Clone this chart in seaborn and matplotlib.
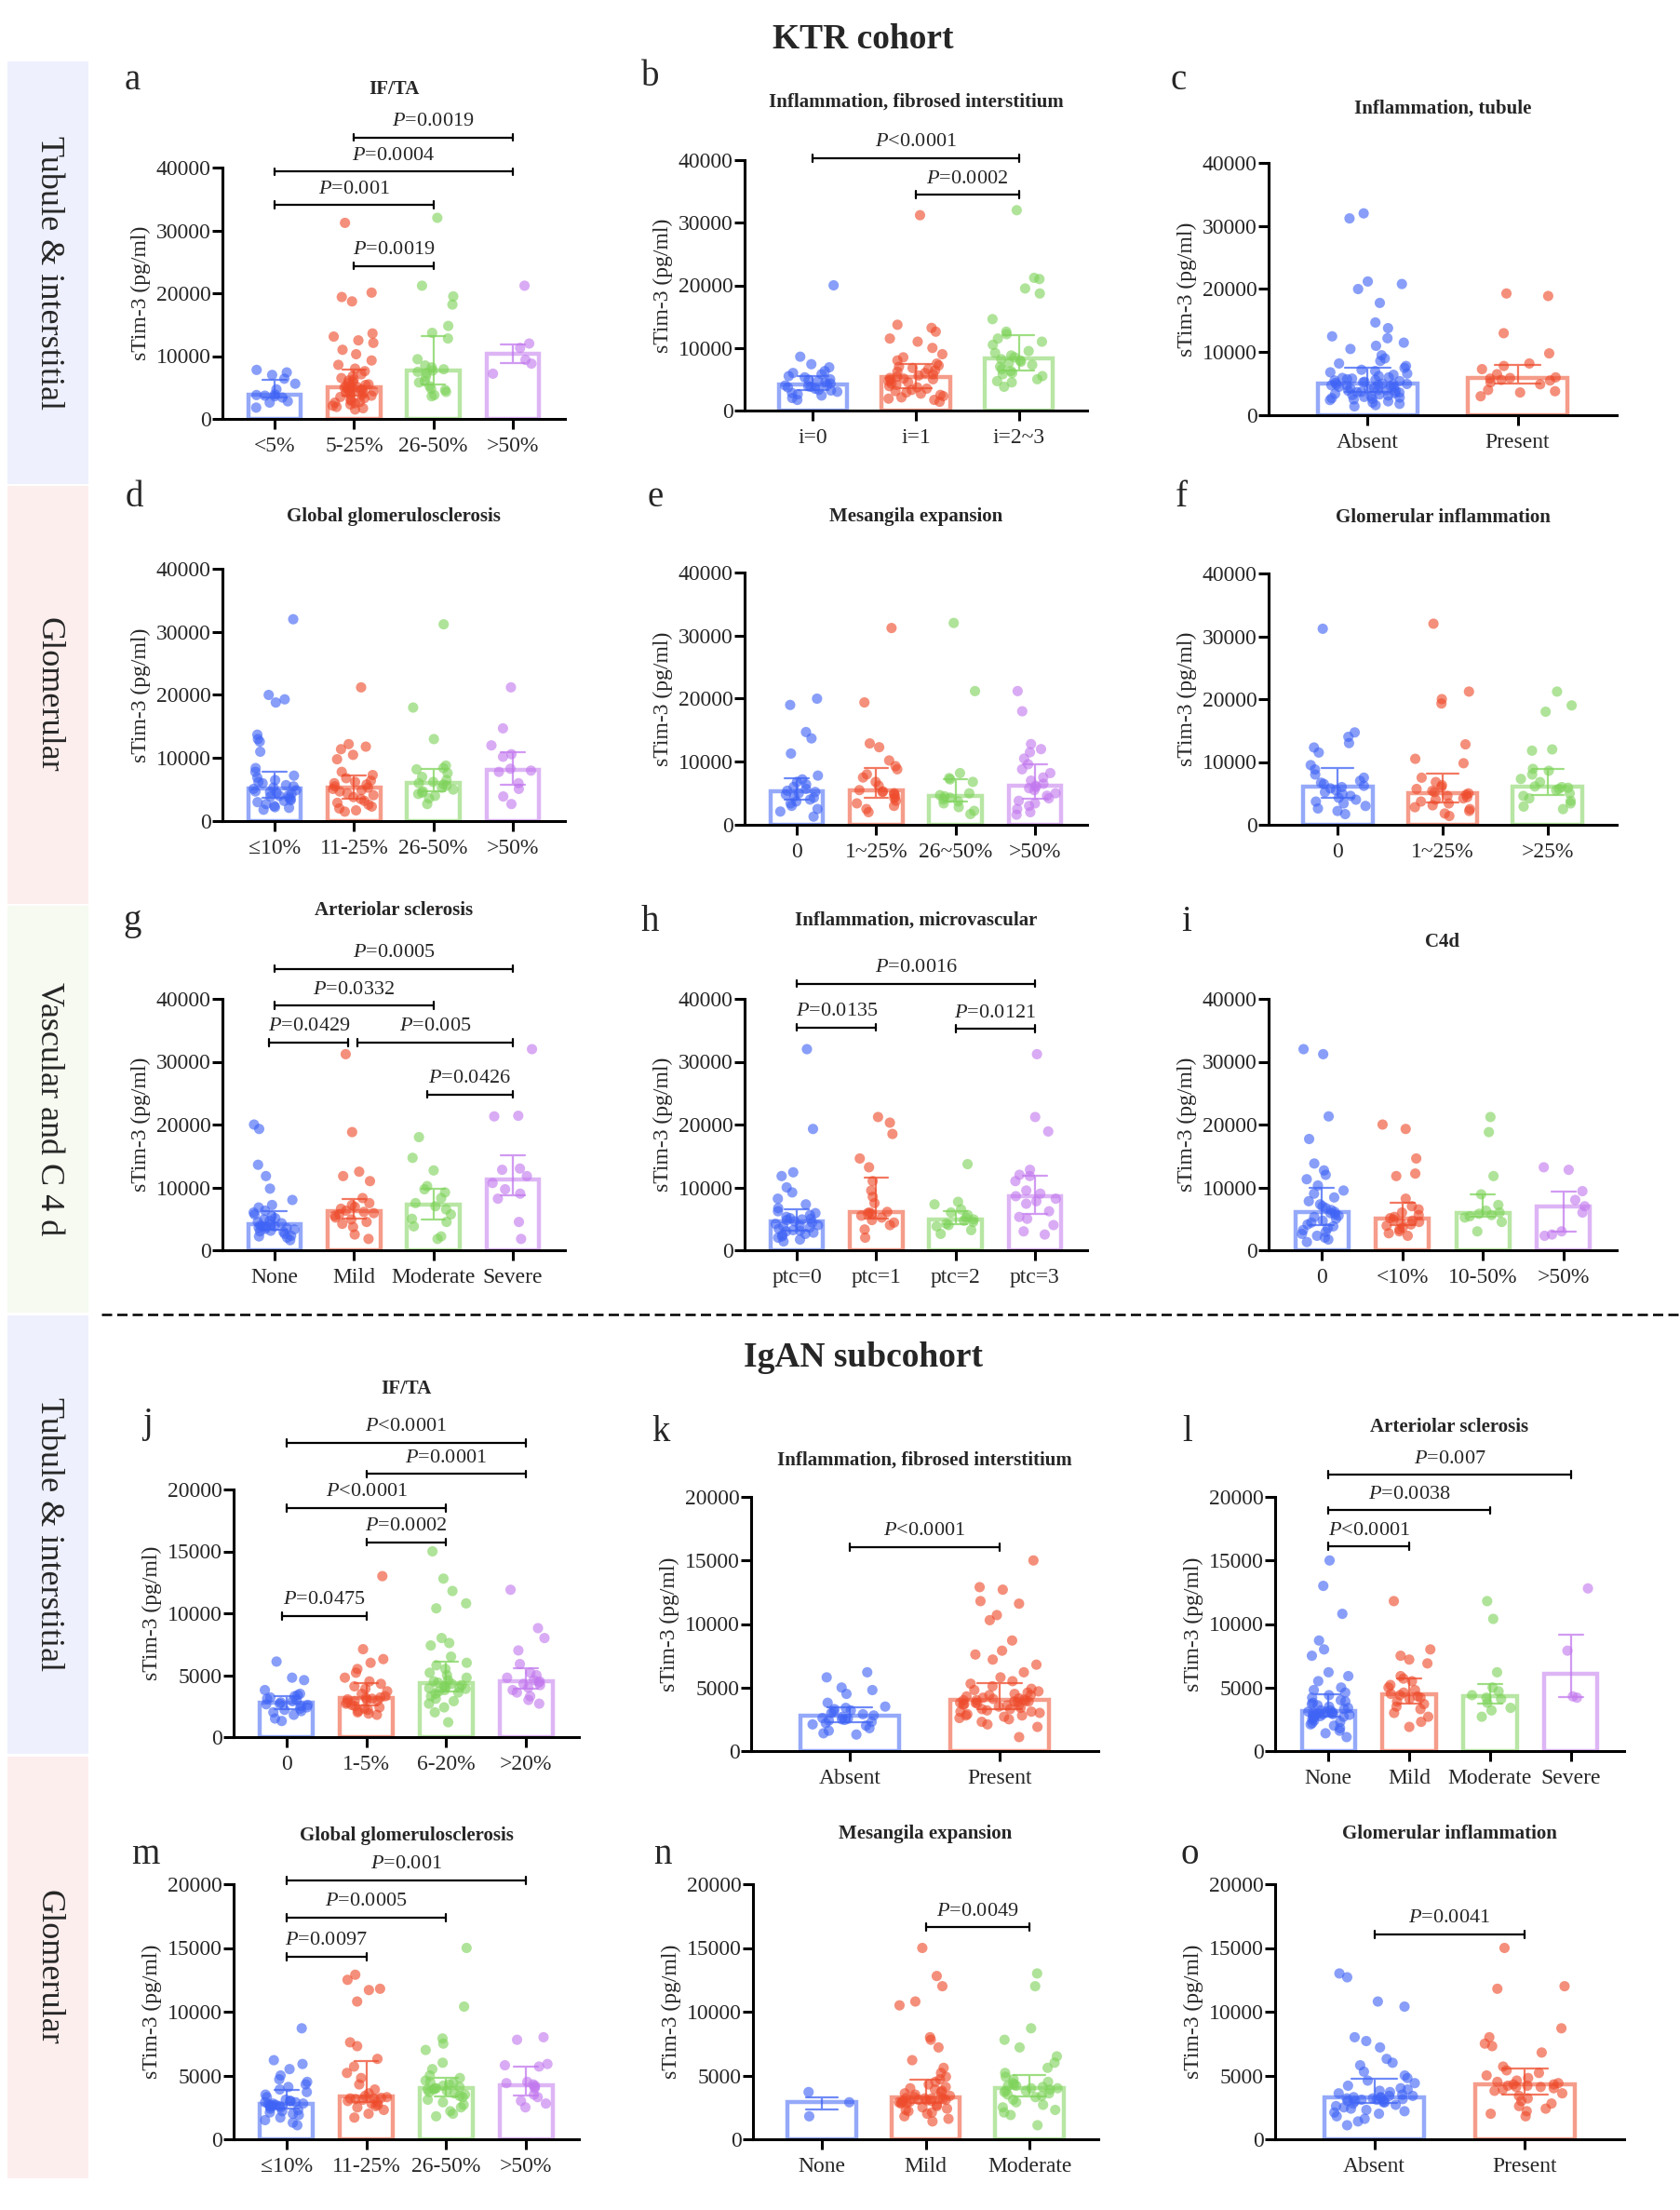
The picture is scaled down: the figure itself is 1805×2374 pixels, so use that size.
import numpy as np
import pandas as pd
import matplotlib
matplotlib.use('Agg')
import matplotlib.pyplot as plt
from matplotlib.patches import Rectangle
from matplotlib.lines import Line2D
import seaborn as sns

np.random.seed(7)

# ---------------- data (sTim-3, pg/ml) ----------------
a_cats = ['<5%', '5-25%', '26-50%', '>50%']
a_vals = [
    [7800, 7400, 7000, 6400, 5600, 4700, 3900, 3800, 3700, 3600, 3400, 2800, 2600, 1800],
    [31200, 20100, 19400, 18700, 13600, 13100, 12500, 12100, 11000, 10300, 9300, 8600, 8000, 7600,
     7100, 6800, 6500, 6300, 6100, 5900, 5700, 5500, 5400, 5200, 5100, 5000, 4900, 4800, 4600, 4500,
     4300, 4100, 3900, 3700, 3500, 3300, 3100, 2900, 2700, 2500, 2300, 2100, 1900, 1700, 1500, 4700,
     4400, 3800, 2600, 4200],
    [32000, 21200, 19500, 18200, 14800, 13700, 12800, 9500, 8500, 8200, 7900, 7700, 7500, 7300, 6700,
     6000, 5800, 5200, 4800, 4600, 4300, 3800, 3600],
    [21200, 12000, 11300, 9400, 8800, 7200],
]
a_sig = [(1, 3, 44790, '=0.0019'), (0, 3, 39360, '=0.0004'), (0, 2, 34070, '=0.001'), (1, 2, 24340, '=0.0019')]

b_cats = ['i=0', 'i=1', 'i=2~3']
b_vals = [
    [20000, 8600, 7400, 6900, 6300, 6000, 5800, 5500, 5300, 5000, 4900, 4700, 4500, 4300, 4100, 4000,
     3900, 3800, 3700, 3500, 3300, 3200, 3000, 2800, 2600, 2400, 2000, 1700],
    [31200, 13700, 13200, 12600, 11500, 11000, 10000, 9000, 8500, 8000, 7500, 7200, 7000, 6800, 6600,
     6400, 6200, 6000, 5800, 5600, 5400, 5200, 5100, 5000, 4900, 4700, 4500, 4300, 4100, 3900, 3700,
     3500, 3300, 3100, 2900, 2700, 2500, 2300, 2100, 1900, 1700, 1400],
    [32000, 21200, 21000, 19500, 18700, 14600, 12600, 12200, 11500, 11000, 10500, 9500, 9200, 8800,
     8500, 8200, 8000, 7800, 7600, 7300, 7000, 6600, 6300, 6000, 5800, 5500, 5000, 4700, 4500, 3800],
]
b_sig = [(0, 2, 40300, '<0.0001'), (1, 2, 34470, '=0.0002')]

c_cats = ['Absent', 'Present']
c_vals = [
    [32000, 31200, 21200, 20800, 20000, 17800, 14700, 13800, 12500, 12200, 11500, 11000, 10500, 9500,
     9000, 8600, 8200, 7800, 7500, 7200, 7000, 6800, 6600, 6400, 6200, 6000, 5900, 5800, 5700, 5600,
     5500, 5400, 5300, 5200, 5100, 5000, 4900, 4800, 4700, 4600, 4500, 4400, 4300, 4200, 4100, 4000,
     3900, 3800, 3700, 3600, 3500, 3400, 3300, 3200, 3100, 3000, 2900, 2800, 2700, 2600, 2500, 2400,
     2200, 2000, 1800, 1600, 1400, 4950, 4850, 4750, 3950, 3650],
    [19300, 18900, 13000, 9800, 8200, 7800, 7300, 6500, 6000, 5900, 5800, 5600, 5500, 5200, 4900, 4000,
     3800, 3600, 3000],
]
c_sig = []

d_cats = ['≤10%', '11-25%', '26-50%', '>50%']
d_vals = [
    [32000, 20000, 19300, 18800, 13700, 13000, 12600, 11000, 8400, 7800, 7200, 6900, 6500, 6200, 6000,
     5700, 5500, 5300, 5100, 4900, 4700, 4600, 4500, 4300, 4100, 4000, 3900, 3700, 3500, 3300, 3200,
     3000, 2700, 2400, 2200, 2100, 1800],
    [21200, 12200, 11800, 11400, 10500, 9800, 7800, 7300, 6800, 6400, 6200, 6000, 5800, 5500, 5300,
     5100, 4900, 4700, 4400, 4100, 3800, 3500, 3200, 2900, 2600, 2300, 2000, 1700, 1500],
    [31200, 18000, 13000, 8800, 8400, 8200, 7600, 7000, 6500, 6200, 6000, 5800, 5600, 5300, 5000, 4700,
     4500, 4300, 4000, 3600, 2700],
    [21200, 14700, 12000, 10600, 10200, 8300, 8000, 7800, 6000, 5100, 3900, 2700],
]
d_sig = []

e_cats = ['0', '1~25%', '26~50%', '>50%']
e_vals = [
    [20000, 19000, 14700, 13700, 11300, 7800, 7200, 6800, 6400, 6000, 5700, 5400, 5200, 5000, 4800,
     4500, 4300, 4000, 3700, 3400, 3000, 2500, 2100, 1300],
    [31200, 19400, 12900, 12300, 10200, 9300, 8800, 8000, 7500, 6800, 6200, 5300, 5500, 5200, 5000,
     4800, 4500, 4200, 3800, 3400, 3000, 2500, 2000],
    [32000, 21200, 8200, 7400, 7200, 6800, 5000, 4700, 4500, 4300, 4000, 3700, 3400, 2800, 2200, 1700],
    [21200, 18000, 12800, 12000, 11500, 10500, 9600, 8800, 8200, 7500, 7000, 6500, 6200, 6000, 5800,
     5500, 5000, 4600, 4200, 3800, 3400, 3000, 2500, 2000, 1600],
]
e_sig = []

f_cats = ['0', '1~25%', '>25%']
f_vals = [
    [31200, 14700, 14000, 13000, 12300, 11500, 9500, 8800, 8000, 7500, 7000, 6700, 6500, 6200, 6000,
     5800, 5500, 5200, 4900, 4600, 4300, 4000, 3700, 3400, 3000, 2600, 2200, 1700],
    [32000, 21200, 20000, 19300, 12800, 10500, 9800, 7500, 6800, 6300, 6000, 5700, 5400, 5200, 5000,
     4800, 4600, 4400, 4200, 4000, 3700, 3400, 3100, 2800, 2500, 2200, 1800, 1400],
    [21200, 19000, 18000, 12000, 11800, 8900, 8600, 8000, 7300, 6800, 6000, 6100, 5900, 5700, 5500,
     5000, 4600, 4200, 3800, 3400, 2900, 2500],
]
f_sig = []

g_cats = ['None', 'Mild', 'Moderate', 'Severe']
g_vals = [
    [20000, 19300, 13600, 11800, 9800, 8000, 7200, 6800, 6300, 6000, 5700, 5400, 5100, 4900, 4700, 4500,
     4300, 4100, 3900, 3800, 3800, 3700, 3600, 3500, 3400, 3300, 3100, 3000, 2900, 2600, 2300, 2200,
     2000, 1600],
    [31200, 18800, 12500, 11800, 11000, 8300, 7500, 7200, 6900, 6600, 6300, 6100, 5900, 5700, 5500, 5200,
     4900, 4500, 4200, 3700, 2500, 1800],
    [18000, 14700, 12700, 10200, 9700, 9200, 8300, 7500, 7000, 6500, 5700, 5000, 4500, 3800, 2200, 1800],
    [32000, 21400, 21300, 13000, 12800, 11800, 10700, 9700, 9000, 8200, 4500, 1800],
]
g_sig = [(0, 3, 44790, '=0.0005'), (0, 2, 38960, '=0.0332'), (-0.07, 0.93, 33040, '=0.0429'),
         (1.04, 3, 33040, '=0.005'), (1.92, 3, 24790, '=0.0426')]

h_cats = ['ptc=0', 'ptc=1', 'ptc=2', 'ptc=3']
h_vals = [
    [32000, 19300, 12400, 11800, 10000, 9200, 8200, 7300, 6700, 6200, 5900, 5600, 5300, 5100, 5000, 4900,
     4800, 4600, 4400, 4200, 4000, 3900, 3800, 3600, 3400, 3200, 3100, 3000, 2800, 2600, 2400, 2200,
     2000, 1700, 1400],
    [21200, 20300, 18500, 14600, 13200, 11000, 9500, 8500, 7500, 6100, 5900, 6000, 5800, 5500, 5200, 4800,
     4400, 4000, 3300, 2000],
    [13700, 7700, 7300, 6500, 6000, 5600, 5200, 4900, 4700, 4500, 4200, 4000, 3800, 3200, 2600],
    [31200, 21200, 18900, 12800, 12000, 11800, 11000, 9500, 9000, 8600, 8200, 7800, 7400, 6200, 5300,
     5000, 4000, 3000, 2500],
]
h_sig = [(0, 3, 42430, '=0.0016'), (0, 1, 35480, '=0.0135'), (2, 3, 35230, '=0.0121')]

i_cats = ['0', '<10%', '10-50%', '>50%']
i_vals = [
    [32000, 31200, 21300, 17700, 13800, 12700, 12000, 11300, 10300, 9500, 9000, 8400, 7800, 7300, 7000,
     6700, 6400, 6100, 5900, 5700, 5500, 5300, 5000, 4700, 4400, 4100, 3800, 3500, 3200, 2900, 2600,
     2300, 2000, 1700, 1300],
    [20000, 19300, 14600, 12200, 11800, 8200, 7000, 6500, 6000, 5600, 5300, 5100, 4900, 4700, 4500, 4300,
     4100, 3900, 3600, 3300, 3000, 2700, 2300],
    [21200, 18800, 11800, 8900, 7200, 6300, 6000, 5800, 5600, 5400, 5200, 4500, 3000],
    [13200, 12800, 9400, 8000, 7000, 6000, 3000, 2500, 2300],
]
i_sig = []

j_cats = ['0', '1-5%', '6-20%', '>20%']
j_vals = [
    [6100, 4800, 4600, 3800, 3500, 3400, 3300, 3200, 3100, 3000, 2900, 2800, 2700, 2650, 2600, 2500,
     2400, 2300, 2200, 2100, 2000, 1800, 1500, 1300],
    [13000, 7100, 6300, 6000, 5500, 5200, 4800, 4500, 4300, 4100, 3900, 3700, 3500, 3300, 3200, 3150,
     3100, 3050, 3000, 2950, 2900, 2800, 2700, 2600, 2500, 2400, 2300, 2200, 2100, 2000, 1900, 1800],
    [15000, 12800, 11800, 10800, 10400, 8000, 7600, 7400, 6500, 6000, 5800, 5500, 5200, 5000, 4800, 4600,
     4500, 4400, 4300, 4200, 4100, 4050, 4000, 3950, 3900, 3800, 3700, 3600, 3500, 3300, 3100, 2900,
     2700, 2400, 2000, 1200],
    [11900, 8800, 8000, 7000, 5900, 5200, 5000, 4800, 4600, 4500, 4400, 4300, 4200, 4000, 3800, 3600,
     3300, 3000, 2700],
]
j_sig = [(0, 3, 23760, '<0.0001'), (1, 3, 21250, '=0.0001'), (0, 2, 18500, '<0.0001'),
         (1, 2, 15740, '=0.0002'), (-0.05, 1, 9775, '=0.0475')]

k_cats = ['Absent', 'Present']
k_vals = [
    [6200, 5800, 5000, 4800, 4500, 3800, 3500, 3400, 3300, 3200, 3100, 3000, 2900, 2800, 2700, 2600,
     2550, 2500, 2450, 2400, 2300, 2200, 2100, 2000, 1800, 1600, 1400, 1300],
    [15000, 12900, 12700, 11800, 11600, 10700, 10300, 8700, 7900, 7600, 7200, 6800, 6200, 5800, 5500,
     5300, 5100, 4900, 4800, 4700, 4600, 4500, 4400, 4300, 4200, 4150, 4100, 4050, 4000, 3950, 3900,
     3850, 3800, 3750, 3700, 3650, 3600, 3500, 3400, 3300, 3200, 3100, 3000, 2900, 2800, 2700, 2600,
     2500, 2300, 2100, 1900, 1100, 4000, 3900, 3800, 4400, 3600, 3300, 3100, 2800],
]
k_sig = [(0, 1, 16050, '<0.0001')]

l_cats = ['None', 'Mild', 'Moderate', 'Severe']
l_vals = [
    [15000, 13000, 10800, 8700, 8000, 7500, 6200, 5900, 5500, 5000, 4800, 4600, 4400, 4200, 4000, 3900,
     3800, 3700, 3600, 3500, 3400, 3300, 3200, 3100, 3050, 3000, 2950, 2900, 2850, 2800, 2750, 2700,
     2600, 2500, 2400, 2300, 2200, 2100, 2000, 1800, 1600, 1400, 1100, 3000, 3100, 2900, 3200, 2800],
    [11800, 8000, 7500, 7200, 6900, 5900, 5700, 5500, 5200, 5000, 4800, 4600, 4500, 4400, 4300, 4200,
     4100, 3900, 3700, 3500, 3300, 3000, 2700, 2300, 1900],
    [11800, 10400, 6200, 5000, 4700, 4400, 4200, 4100, 3800, 3400, 3200, 2700],
    [12800, 7900, 4300, 4200],
]
l_sig = [(0, 3, 21740, '=0.007'), (0, 2, 18940, '=0.0038'), (0, 1, 16100, '<0.0001')]

m_cats = ['≤10%', '11-25%', '26-50%', '>50%']
m_vals = [
    [8700, 6200, 5900, 5500, 5000, 4700, 4500, 4300, 4100, 3900, 3700, 3500, 3300, 3100, 3000, 2900,
     2800, 2750, 2700, 2650, 2600, 2550, 2500, 2400, 2300, 2200, 2100, 2000, 1900, 1700, 1500, 1300,
     1100, 2800, 2900, 3000, 2600],
    [12900, 12500, 11800, 11700, 10800, 7600, 7300, 6300, 5700, 5200, 4800, 4300, 3900, 3600, 3400, 3300,
     3250, 3200, 3150, 3100, 3000, 2900, 2700, 2500, 2300, 2000, 1700, 2800, 3200, 2600],
    [15000, 10400, 7900, 7500, 7000, 6000, 5500, 5000, 4800, 4600, 4500, 4400, 4300, 4200, 4100, 4000,
     3900, 3800, 3700, 3600, 3500, 3400, 3300, 3100, 2900, 2700, 2500, 2200, 2000, 1800, 4000, 3900],
    [8000, 7800, 5900, 5800, 5700, 4500, 4400, 4300, 4200, 4100, 4000, 3500, 3300, 3000, 2800, 2500],
]
m_sig = [(0, 3, 20300, '=0.001'), (0, 2, 17380, '=0.0005'), (0, 1, 14330, '=0.0097')]

n_cats = ['None', 'Mild', 'Moderate']
n_vals = [
    [3700, 2900, 1800],
    [15000, 12800, 12000, 10800, 10500, 8000, 7800, 7200, 6200, 5600, 5200, 4900, 4700, 4500, 4300, 4100,
     4000, 3900, 3800, 3700, 3600, 3500, 3400, 3300, 3250, 3200, 3150, 3100, 3050, 3000, 2950, 2900,
     2850, 2800, 2700, 2600, 2500, 2400, 2300, 2200, 2100, 2000, 1800, 1600, 1400, 3200, 3100, 3000,
     2900, 3300],
    [13000, 12000, 8700, 7800, 7200, 6500, 6000, 5600, 5200, 4900, 4700, 4500, 4400, 4300, 4200, 4100,
     4000, 3900, 3800, 3700, 3600, 3500, 3400, 3300, 3100, 2900, 2700, 2500, 2300, 2100, 1900, 1100,
     4200, 4000, 3800],
]
n_sig = [(1, 2, 16640, '=0.0049')]

o_cats = ['Absent', 'Present']
o_vals = [
    [13000, 12700, 10800, 10400, 8000, 7700, 7200, 6300, 6000, 5800, 5300, 5000, 4800, 4600, 4400, 4200,
     4000, 3900, 3800, 3700, 3600, 3500, 3400, 3300, 3250, 3200, 3150, 3100, 3050, 3000, 2900, 2800,
     2700, 2600, 2500, 2400, 2300, 2200, 2100, 2000, 1800, 1600, 1400, 1100, 3200, 3100, 3000, 2900,
     3300, 3400],
    [15000, 12000, 11800, 8700, 8000, 7500, 7300, 6800, 5700, 5400, 5200, 5000, 4800, 4600, 4500, 4400,
     4300, 4200, 4100, 4000, 3900, 3800, 3600, 3400, 3200, 3000, 2800, 2600, 2400, 2200, 2000, 1800,
     4300, 4200, 4100],
]
o_sig = [(0, 1, 16080, '=0.0041')]

titles = {
    'a': 'IF/TA', 'b': 'Inflammation, fibrosed interstitium', 'c': 'Inflammation, tubule',
    'd': 'Global glomerulosclerosis', 'e': 'Mesangila expansion', 'f': 'Glomerular inflammation',
    'g': 'Arteriolar sclerosis', 'h': 'Inflammation, microvascular', 'i': 'C4d',
    'j': 'IF/TA', 'k': 'Inflammation, fibrosed interstitium', 'l': 'Arteriolar sclerosis',
    'm': 'Global glomerulosclerosis', 'n': 'Mesangila expansion', 'o': 'Glomerular inflammation',
}
ktr_ticks = [0, 10000, 20000, 30000, 40000]
igan_ticks = [0, 5000, 10000, 15000, 20000]

# ---------------- style ----------------
sns.set_theme(style='ticks')
plt.rcParams['font.family'] = ['Liberation Serif', 'DejaVu Serif']
plt.rcParams['mathtext.fontset'] = 'custom'
plt.rcParams['mathtext.rm'] = 'Liberation Serif'
plt.rcParams['mathtext.it'] = 'Liberation Serif:italic'

COLORS = ['#3F63F5', '#EE4B2B', '#7ED35A', '#C278EE']
W, H = 1805, 2374
fig = plt.figure(figsize=(W / 100, H / 100), dpi=100)

# layout in pixels: left, top, right, bottom of each plotting area
boxes = {
    'a': (239, 180, 607, 450), 'b': (800, 172, 1168, 441), 'c': (1363, 175, 1737, 446),
    'd': (239, 611, 607, 882), 'e': (800, 615, 1168, 886), 'f': (1363, 616, 1737, 886),
    'g': (239, 1073, 607, 1343), 'h': (800, 1073, 1168, 1343), 'i': (1363, 1073, 1737, 1343),
    'j': (251, 1600, 622, 1866), 'k': (807, 1608, 1180, 1881), 'l': (1370, 1608, 1745, 1881),
    'm': (251, 2024, 622, 2298), 'n': (809, 2024, 1180, 2298), 'o': (1370, 2024, 1745, 2298),
}
title_y = {'a': 96, 'b': 110, 'c': 117, 'd': 555, 'e': 555, 'f': 556, 'g': 978, 'h': 989,
           'i': 1012, 'j': 1492, 'k': 1569, 'l': 1533, 'm': 1972, 'n': 1970, 'o': 1970}
letter_xy = {'a': (142, 86), 'b': (699, 82), 'c': (1266, 86), 'd': (144, 535), 'e': (704, 535),
             'f': (1269, 535), 'g': (142, 990), 'h': (698, 990), 'i': (1275, 990), 'j': (158, 1530),
             'k': (710, 1538), 'l': (1276, 1538), 'm': (156, 1993), 'n': (712, 1993), 'o': (1278, 1993)}


def fx(px):
    return px / W


def fy(py):
    return 1 - py / H


# side bands
bands = [(66, 520, '#eef0fd', 'Tubule & interstitial'),
         (522, 971, '#fdeeee', 'Glomerular'),
         (973, 1410, '#f6faf1', 'Vascular and C 4 d'),
         (1413, 1884, '#eef0fd', 'Tubule & interstitial'),
         (1887, 2340, '#fdeeee', 'Glomerular')]
for top, bot, col, lab in bands:
    fig.add_artist(Rectangle((fx(8), fy(bot)), fx(95) - fx(8), fy(top) - fy(bot),
                             transform=fig.transFigure, facecolor=col, edgecolor='none', zorder=0))
    fig.text(fx(52), fy((top + bot) / 2), lab, rotation=-90, ha='center', va='center', fontsize=26)

fig.add_artist(Line2D([fx(109), 1.0], [fy(1412), fy(1412)], transform=fig.transFigure,
                      color='black', lw=1.8, ls=(0, (4.4, 2.2))))
fig.text(fx(927), fy(43), 'KTR cohort', ha='center', va='center', fontsize=27, fontweight='bold')
fig.text(fx(927), fy(1458), 'IgAN subcohort', ha='center', va='center', fontsize=27, fontweight='bold')


def draw_panel(key, cats, vals, sig, ticks):
    L, T, R, B = boxes[key]
    ax = fig.add_axes([fx(L), fy(B), fx(R) - fx(L), fy(T) - fy(B)])
    df = pd.DataFrame({'grp': np.repeat(cats, [len(v) for v in vals]),
                       'val': np.concatenate(vals)})
    pal = dict(zip(cats, COLORS))
    sns.barplot(data=df, x='grp', y='val', hue='grp', order=cats, hue_order=cats, palette=pal,
                estimator='median', errorbar=('pi', 50), fill=False, width=0.66,
                linewidth=3.2, alpha=0.55, capsize=0.3,
                err_kws={'linewidth': 1.6, 'alpha': 0.75, 'zorder': 4}, legend=False, ax=ax)
    sns.stripplot(data=df, x='grp', y='val', hue='grp', order=cats, hue_order=cats, palette=pal,
                  jitter=0.27, size=8, alpha=0.62, linewidth=0, legend=False, ax=ax, zorder=3)
    ymax = ticks[-1]
    ax.set_xlim(-0.66, len(cats) - 0.34)
    ax.set_ylim(0, ymax)
    ax.set_yticks(ticks)
    ax.set_yticklabels([str(t) for t in ticks])
    ax.set_xlabel('')
    ax.set_ylabel('sTim-3 (pg/ml)', fontsize=17, labelpad=4)
    sns.despine(ax=ax)
    for s in ('left', 'bottom'):
        ax.spines[s].set_linewidth(2.2)
        ax.spines[s].set_color('black')
    ax.tick_params(axis='both', direction='out', length=8, width=2.2, color='black')
    ax.tick_params(axis='y', labelsize=17, pad=1)
    ax.tick_params(axis='x', labelsize=17, pad=6)
    ax.set_facecolor('none')

    d = ymax * 0.014
    for x0, x1, y, lab in sig:
        ax.plot([x0, x1], [y, y], color='black', lw=1.6, clip_on=False, zorder=5)
        for xx in (x0, x1):
            ax.plot([xx, xx], [y - d, y + d], color='black', lw=1.6, clip_on=False, zorder=5)
        ax.annotate(r'$\mathit{P}$' + lab, ((x0 + x1) / 2, y), xytext=(0, 9),
                    textcoords='offset points', ha='center', va='baseline', fontsize=16,
                    annotation_clip=False)

    fig.text(fx((L + R) / 2), fy(title_y[key]), titles[key], ha='center', va='center',
             fontsize=15, fontweight='bold')
    lx, ly = letter_xy[key]
    fig.text(fx(lx), fy(ly), key, ha='center', va='center', fontsize=28)


draw_panel('a', a_cats, a_vals, a_sig, ktr_ticks)
draw_panel('b', b_cats, b_vals, b_sig, ktr_ticks)
draw_panel('c', c_cats, c_vals, c_sig, ktr_ticks)
draw_panel('d', d_cats, d_vals, d_sig, ktr_ticks)
draw_panel('e', e_cats, e_vals, e_sig, ktr_ticks)
draw_panel('f', f_cats, f_vals, f_sig, ktr_ticks)
draw_panel('g', g_cats, g_vals, g_sig, ktr_ticks)
draw_panel('h', h_cats, h_vals, h_sig, ktr_ticks)
draw_panel('i', i_cats, i_vals, i_sig, ktr_ticks)
draw_panel('j', j_cats, j_vals, j_sig, igan_ticks)
draw_panel('k', k_cats, k_vals, k_sig, igan_ticks)
draw_panel('l', l_cats, l_vals, l_sig, igan_ticks)
draw_panel('m', m_cats, m_vals, m_sig, igan_ticks)
draw_panel('n', n_cats, n_vals, n_sig, igan_ticks)
draw_panel('o', o_cats, o_vals, o_sig, igan_ticks)

fig.savefig('out.png', dpi=100, facecolor='white')
